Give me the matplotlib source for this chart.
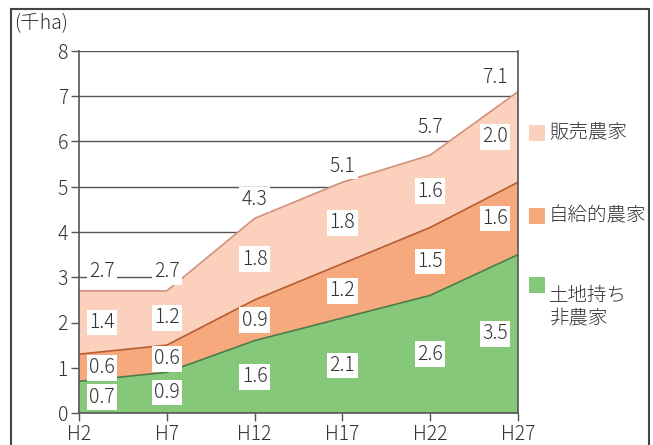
import matplotlib
matplotlib.use("Agg")
import matplotlib.pyplot as plt
from matplotlib.patches import Rectangle
from matplotlib import font_manager
import numpy as np

plt.rcParams['font.family'] = ['Noto Sans CJK JP', 'DejaVu Sans']
plt.rcParams['font.weight'] = 'light'

categories = ["H2", "H7", "H12", "H17", "H22", "H27"]
series_names = ["土地持ち\n非農家", "自給的農家", "販売農家"]
landowner = [0.7, 0.9, 1.6, 2.1, 2.6, 3.5]
self_sufficient = [0.6, 0.6, 0.9, 1.2, 1.5, 1.6]
commercial = [1.4, 1.2, 1.8, 1.8, 1.6, 2.0]
totals = [2.7, 2.7, 4.3, 5.1, 5.7, 7.1]
y_ticks = [0, 1, 2, 3, 4, 5, 6, 7, 8]
unit_label = "(千ha)"

fills = ["#86c87a", "#f6a97c", "#fbd1be"]
edges = ["#4e7c48", "#b85c32", "#d4917a"]
text_color = "#333333"
grid_color = "#555555"

W, H = 653, 445
fig = plt.figure(figsize=(W / 100, H / 100), dpi=100)
ax = fig.add_axes([79 / W, 1 - 413 / H, (518 - 79) / W, (413 - 51) / H])

x = np.arange(len(categories))
series = [landowner, self_sufficient, commercial]
base = np.zeros(len(x))
for vals, fc, ec in zip(series, fills, edges):
    top = base + np.array(vals)
    ax.fill_between(x, base, top, facecolor=fc, edgecolor="none", zorder=2)
    ax.plot(x, top, color=ec, lw=1.2, zorder=3)
    base = top

ax.set_xlim(0, len(x) - 1)
ax.set_ylim(0, 8)
ax.set_yticks(y_ticks)
ax.set_xticks(x)
ax.set_xticklabels(categories)
for yv in y_ticks[1:]:
    ax.axhline(yv, color=grid_color, lw=1.0, zorder=1)

for side in ["left", "right", "bottom"]:
    ax.spines[side].set_color(grid_color)
    ax.spines[side].set_linewidth(1.2)
    ax.spines[side].set_zorder(4)
ax.spines["top"].set_visible(False)
ax.tick_params(axis="both", colors=grid_color, labelcolor=text_color,
               labelsize=14, length=6, width=1.0, pad=2)

# x pixel offsets for labels (first/last shifted inward)
x_off = [23] + [0] * (len(x) - 2) + [-23]
bbox = dict(boxstyle="square,pad=0.12", facecolor="white", edgecolor="none")

base = np.zeros(len(x))
for vals in series:
    for i, v in enumerate(vals):
        mid = base[i] + v / 2
        ax.annotate(f"{v:.1f}", (x[i], mid), xytext=(x_off[i], 0),
                    textcoords="offset pixels", ha="center", va="center",
                    fontsize=14, color=text_color, bbox=bbox, zorder=5)
    base = base + np.array(vals)

tot_dy = [19, 19, 19, 16, 28, 14]
for i, t in enumerate(totals):
    ax.annotate(f"{t:.1f}", (x[i], t), xytext=(x_off[i], tot_dy[i]),
                textcoords="offset pixels", ha="center", va="center",
                fontsize=14, color=text_color, bbox=bbox, zorder=5)

# unit label
fig.text(14 / W, 1 - 24 / H, unit_label, fontsize=14, color=text_color,
         ha="left", va="center")

# legend (manual)
leg_y = [133, 216, 285]
for name, fc, yc in zip(reversed(series_names), reversed(fills), leg_y):
    fig.patches.append(Rectangle((529 / W, 1 - (yc + 8) / H), 16 / W, 16 / H,
                                 transform=fig.transFigure, facecolor=fc,
                                 edgecolor="none"))
    fig.text(549 / W, 1 - yc / H, name, fontsize=14, color=text_color,
             ha="left", va="top" if "\n" in name else "center",
             linespacing=1.15)

# outer frame
fig.patches.append(Rectangle((11 / W, -0.05), (649 - 11) / W, 1 - 9 / H + 0.05,
                             transform=fig.transFigure, facecolor="none",
                             edgecolor="#444444", lw=1.5))

fig.savefig("out.png", dpi=100)
